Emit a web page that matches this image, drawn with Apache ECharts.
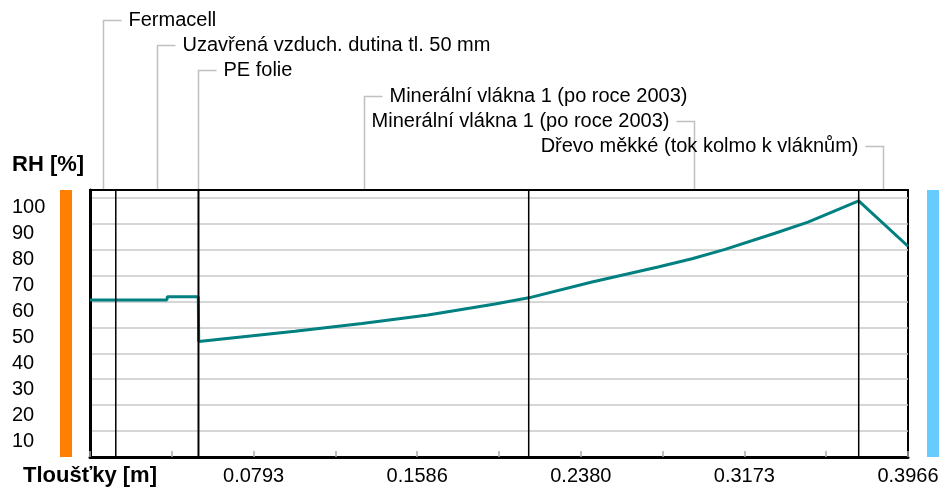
<!DOCTYPE html>
<html><head><meta charset="utf-8">
<script src="https://cdn.jsdelivr.net/npm/echarts@6/dist/echarts.min.js"></script>
<style>html,body{margin:0;padding:0;background:#fff}#c{width:944px;height:493px}</style>
</head><body><div id="c"></div>
<script>
// ---- data ----
const layerNames = ['Fermacell', 'Uzavřená vzduch. dutina tl. 50 mm', 'PE folie',
  'Minerální vlákna 1 (po roce 2003)', 'Minerální vlákna 1 (po roce 2003)', 'Dřevo měkké (tok kolmo k vláknům)'];
const layerBounds = [0, 0.0125, 0.0525, 0.0527, 0.2127, 0.3727, 0.3966];
const thickness = [0, 0.0373, 0.0375, 0.0525, 0.0527, 0.0994, 0.1319, 0.1639, 0.1964, 0.2127,
  0.2434, 0.2754, 0.2919, 0.3079, 0.3321, 0.3481, 0.3727, 0.3966];
const rhValues = [60.6, 60.6, 61.8, 61.8, 44.6, 48.5, 51.5, 54.8, 59.0, 61.4,
  67.5, 73.3, 76.5, 80.1, 86.3, 90.6, 98.8, 81.3];
const xMax = 0.3966;
const xTickStep = 0.03966;
const xTickLabels = ['0.0793', '0.1586', '0.2380', '0.3173', '0.3966'];
const yTickLabels = ['10', '20', '30', '40', '50', '60', '70', '80', '90', '100'];
const yMax = 103;
const yTitle = 'RH [%]';
const xTitle = 'Tloušťky [m]';

// ---- chart ----
const FONT = '"Liberation Sans", Arial, sans-serif';
const chart = echarts.init(document.getElementById('c'), null, {renderer: 'canvas'});
const G = {left: 90, right: 36, top: 190, bottom: 36};

const boundarySeries = layerBounds.slice(1, -1).map(b => ({
  type: 'line', z: 5, showSymbol: false, symbol: 'none', silent: true,
  data: [[b, 0], [b, yMax]],
  lineStyle: {color: '#000', width: 1.5}
}));

chart.setOption({
  animation: false,
  backgroundColor: '#fff',
  grid: {left: G.left, right: G.right, top: G.top, bottom: G.bottom, show: true,
    borderColor: '#000', borderWidth: 2, backgroundColor: '#fff'},
  xAxis: {
    type: 'value', min: 0, max: xMax, interval: xTickStep,
    axisLine: {show: true, onZero: false, lineStyle: {color: '#000', width: 3}},
    axisTick: {show: true, inside: true, length: 6, lineStyle: {color: '#aaa', width: 1.5}},
    splitLine: {show: false},
    axisLabel: {
      fontFamily: FONT, fontSize: 20, color: '#000', margin: 9, showMaxLabel: true,
      formatter: function (v) {
        const i = Math.round(v / xTickStep);
        if (i > 0 && i % 2 === 0) return xTickLabels[i / 2 - 1] || '';
        return '';
      }
    }
  },
  yAxis: {
    type: 'value', min: 0, max: yMax, interval: 10,
    axisLine: {show: true, lineStyle: {color: '#000', width: 3}},
    axisTick: {show: false},
    splitLine: {show: true, showMaxLine: false, showMinLine: false, lineStyle: {color: '#c8c8c8', width: 1.5}},
    axisLabel: {
      fontFamily: FONT, fontSize: 20, color: '#000', align: 'left', margin: 78, verticalAlign: 'top',
      showMaxLabel: false,
      formatter: function (v) {
        const i = Math.round(v / 10);
        if (Math.abs(v - i * 10) < 1e-6 && i >= 1) return yTickLabels[i - 1] || '';
        return '';
      }
    }
  },
  series: [
    {
      type: 'line', z: 2, showSymbol: false, symbol: 'none',
      data: thickness.map((x, i) => [x, rhValues[i]]),
      lineStyle: {color: '#008080', width: 3}
    }
  ].concat(boundarySeries)
});

// ---- decorations positioned from the axes ----
const toPx = (x, y) => chart.convertToPixel({gridIndex: 0}, [x, y]);
const topY = toPx(0, yMax)[1];
const botY = toPx(0, 0)[1];
const leftX = toPx(0, 0)[0];
const rightX = toPx(xMax, 0)[0];
const midX = (leftX + rightX) / 2;
const graphics = [];
graphics.push({type: 'rect', shape: {x: leftX - 30, y: topY, width: 12, height: botY - topY},
  style: {fill: '#ff8000'}, silent: true});
graphics.push({type: 'rect', shape: {x: rightX + 19, y: topY, width: 12, height: botY - topY},
  style: {fill: '#66ccff'}, silent: true});
graphics.push({type: 'line', silent: true, z: 10,
  shape: {x1: leftX, y1: topY, x2: rightX, y2: topY}, style: {stroke: '#000', lineWidth: 2}});
graphics.push({type: 'text', left: 12, top: 154, style: {text: yTitle, font: 'bold 22px ' + FONT, fill: '#000'}});
graphics.push({type: 'text', left: 23, top: 465, style: {text: xTitle, font: 'bold 22px ' + FONT, fill: '#000'}});

layerNames.forEach((name, i) => {
  const c = (layerBounds[i] + layerBounds[i + 1]) / 2;
  const cx = Math.round(toPx(c, 0)[0]) + 0.5;
  const ry = Math.round(20 + i * 25.2) + 0.5;
  const toLeft = cx > midX;
  const ex = toLeft ? cx - 18 : cx + 18;
  graphics.push({type: 'polyline', silent: true,
    shape: {points: [[cx, topY - 1], [cx, ry], [ex, ry]]},
    style: {stroke: '#c0c0c0', lineWidth: 1.5, fill: null}});
  graphics.push({type: 'text', silent: true, x: toLeft ? cx - 25 : cx + 25, y: ry,
    style: {text: name, font: '20px ' + FONT, fill: '#000',
      textAlign: toLeft ? 'right' : 'left', textVerticalAlign: 'middle'}});
});
chart.setOption({graphic: graphics});
</script>
</body></html>
